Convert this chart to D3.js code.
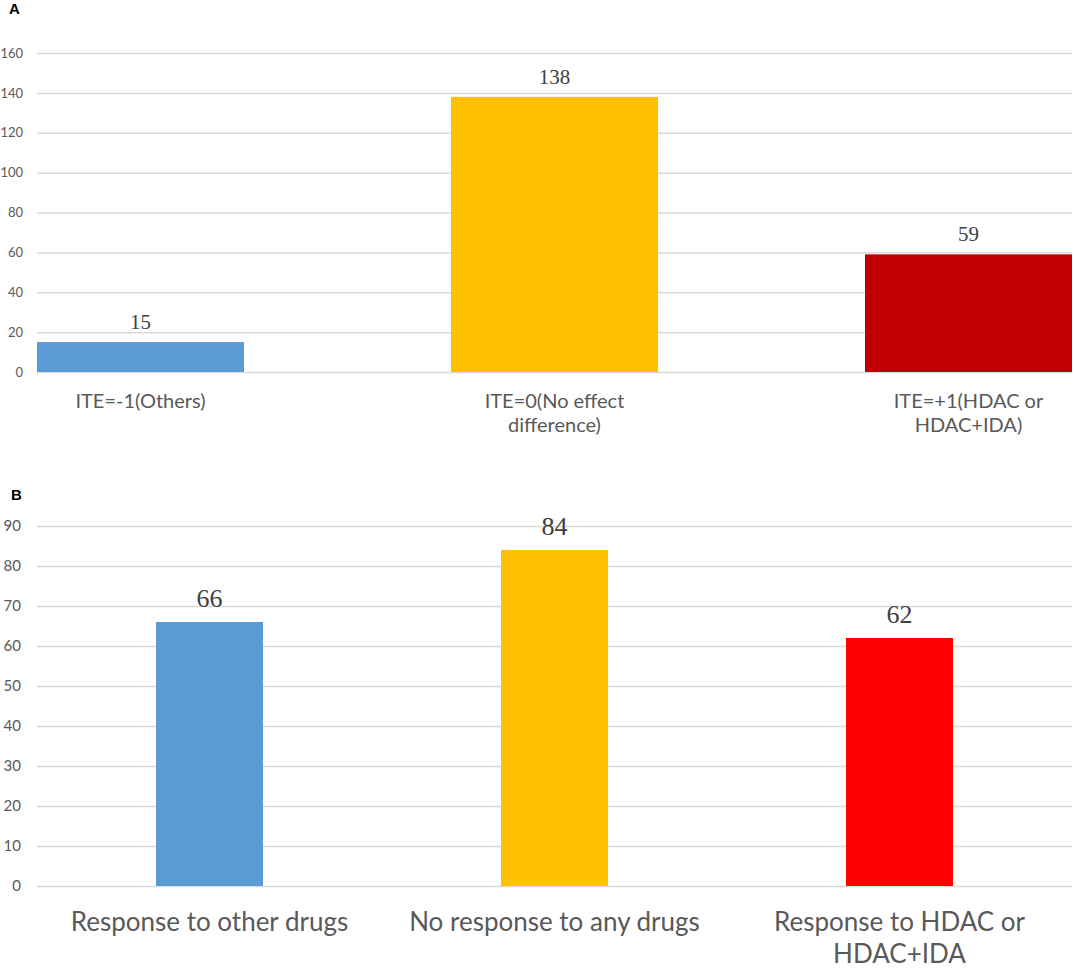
<!DOCTYPE html>
<html>
<head>
<meta charset="utf-8">
<script src="https://cdn.jsdelivr.net/npm/d3@7"></script>
<style>
  body { margin: 0; background: #fff; }
  svg { display: block; }
</style>
</head>
<body>
<div class="chart"></div>
<script>
// panel A data
var catsA = ['ITE=-1(Others)', 'ITE=0(No effect\ndifference)', 'ITE=+1(HDAC or\nHDAC+IDA)'];
var valsA = [15, 138, 59];
var colorsA = ['#5b9bd5', '#ffc000', '#c00000'];
var ticksA = [0, 20, 40, 60, 80, 100, 120, 140, 160];

// panel B data
var catsB = ['Response to other drugs', 'No response to any drugs', 'Response to HDAC or\nHDAC+IDA'];
var valsB = [66, 84, 62];
var colorsB = ['#5b9bd5', '#ffc000', '#ff0000'];
var ticksB = [0, 10, 20, 30, 40, 50, 60, 70, 80, 90];

var W = 1074, H = 968;
var left = 37, right = 1072;

var svg = d3.select('.chart')
  .append('svg')
    .attr('width', W)
    .attr('height', H);

function panel(opts) {
  var g = svg.append('g');

  var x = d3.scaleBand()
    .domain(opts.cats)
    .range([left, right])
    .paddingInner(opts.padIn)
    .paddingOuter(opts.padOut);

  var y = d3.scaleLinear()
    .domain([0, opts.ticks[opts.ticks.length - 1]])
    .range([opts.bottom, opts.top]);

  // gridlines + tick labels
  var yAxis = d3.axisLeft(y)
    .tickValues(opts.ticks)
    .tickSizeInner(-(right - left))
    .tickSizeOuter(0)
    .tickPadding(opts.tickPad);

  var ax = g.append('g')
    .attr('transform', `translate(${left}, 0)`)
    .call(yAxis);
  ax.select('.domain').remove();
  ax.selectAll('.tick line')
    .attr('stroke', '#d9d9d9')
    .attr('stroke-width', 1.5);
  ax.selectAll('.tick text')
    .attr('fill', '#595959')
    .style('font-family', 'Lato, "Open Sans", sans-serif')
    .style('font-size', opts.tickFont + 'px');

  // bars
  g.selectAll('rect.bar')
    .data(opts.vals)
    .enter().append('rect')
      .attr('class', 'bar')
      .attr('x', (d, i) => x(opts.cats[i]))
      .attr('y', d => y(d))
      .attr('width', x.bandwidth())
      .attr('height', d => y(0) - y(d))
      .attr('fill', (d, i) => opts.colors[i]);

  // value labels
  g.selectAll('text.val')
    .data(opts.vals)
    .enter().append('text')
      .attr('class', 'val')
      .attr('x', (d, i) => x(opts.cats[i]) + x.bandwidth() / 2)
      .attr('y', d => y(d) - opts.valGap)
      .attr('text-anchor', 'middle')
      .attr('fill', '#404040')
      .style('font-family', '"Liberation Serif", "Times New Roman", serif')
      .style('font-size', opts.valFont + 'px')
      .text(d => d);

  // category labels
  var lab = g.selectAll('text.cat')
    .data(opts.cats)
    .enter().append('text')
      .attr('class', 'cat')
      .attr('x', d => x(d) + x.bandwidth() / 2)
      .attr('y', opts.catY)
      .attr('text-anchor', 'middle')
      .attr('fill', '#595959')
      .style('font-family', 'Lato, "Open Sans", sans-serif')
      .style('font-size', opts.catFont + 'px');
  lab.each(function(d) {
    var t = d3.select(this);
    d.split('\n').forEach(function(line, i) {
      t.append('tspan')
        .attr('x', t.attr('x'))
        .attr('y', opts.catY + i * opts.catLine)
        .text(line);
    });
  });

  // panel letter
  g.append('text')
    .attr('x', opts.letterX)
    .attr('y', opts.letterY)
    .style('font-family', '"Liberation Sans", Arial, sans-serif')
    .style('font-weight', 'bold')
    .style('font-size', '15px')
    .attr('fill', '#000')
    .text(opts.letter);
}

panel({
  cats: catsA, vals: valsA, colors: colorsA, ticks: ticksA,
  top: 53, bottom: 372, padIn: 0.5, padOut: 0,
  tickPad: 14, tickFont: 13, valGap: 13, valFont: 21,
  catY: 408, catLine: 24, catFont: 20,
  letter: 'A', letterX: 9, letterY: 14
});

panel({
  cats: catsB, vals: valsB, colors: colorsB, ticks: ticksB,
  top: 526, bottom: 886, padIn: 0.69, padOut: 0.345,
  tickPad: 16, tickFont: 15, valGap: 15, valFont: 26,
  catY: 931, catLine: 32, catFont: 26,
  letter: 'B', letterX: 11, letterY: 500
});
</script>
</body>
</html>
